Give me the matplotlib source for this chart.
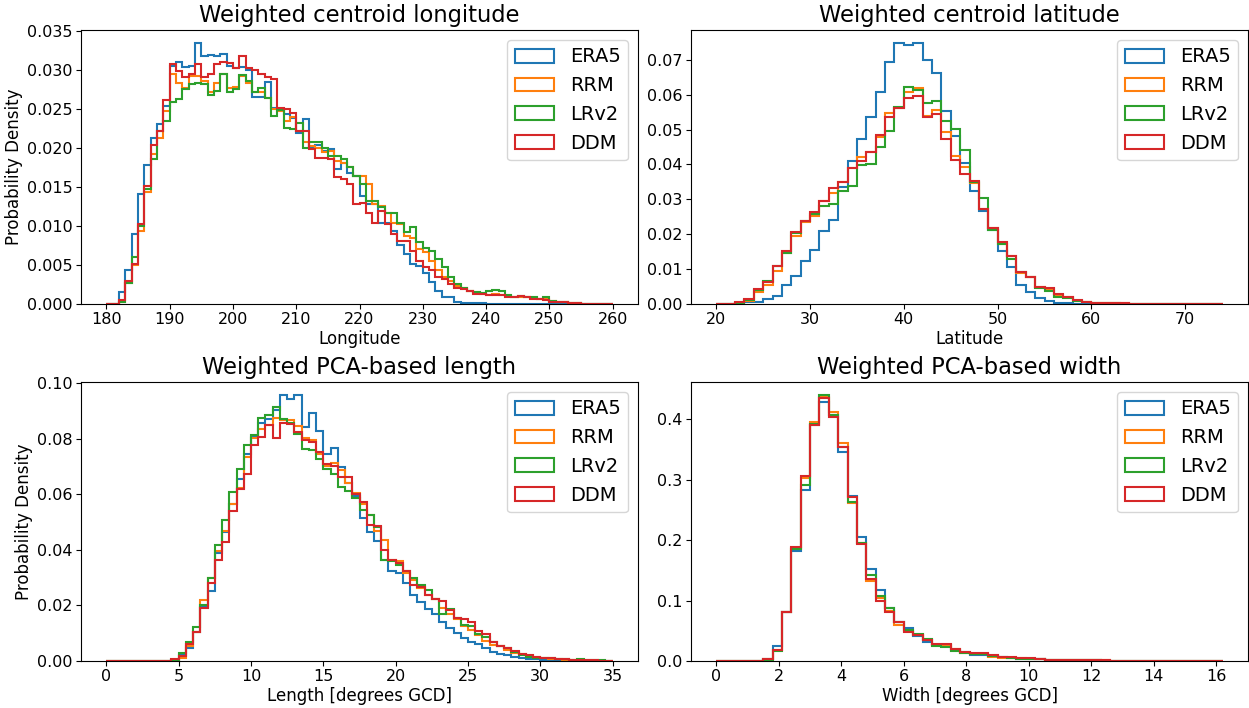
import numpy as np
import matplotlib
matplotlib.use("Agg")
import matplotlib.pyplot as plt

# series names / colours
labels = ["ERA5", "RRM", "LRv2", "DDM"]
colors = ["#1f77b4", "#ff7f0e", "#2ca02c", "#d62728"]

# ---- weighted centroid longitude, 1 degree bins 180..260
lon_edges = np.arange(180, 261, 1)
lon_era5 = [0, 0, 0.0015, 0.0044, 0.0090, 0.0141, 0.0178, 0.0213, 0.0231, 0.0253,
            0.0305, 0.0310, 0.0303, 0.0305, 0.0334, 0.0318, 0.0319, 0.0318, 0.0320, 0.0305,
            0.0302, 0.0303, 0.0300, 0.0265, 0.0265, 0.0284, 0.0251, 0.0249, 0.0243, 0.0238,
            0.0219, 0.0237, 0.0201, 0.0203, 0.0196, 0.0198, 0.0173, 0.0180, 0.0168, 0.0164,
            0.0138, 0.0128, 0.0128, 0.0104, 0.0104, 0.0094, 0.0075, 0.0064, 0.0051, 0.0049,
            0.0040, 0.0028, 0.0017, 0.0009, 0.0009, 0.0002, 0.0001, 0.0001, 0.0001, 0.0001,
            0, 0, 0, 0, 0, 0, 0, 0, 0, 0,
            0, 0, 0, 0, 0, 0, 0, 0, 0, 0]
lon_rrm = [0, 0, 0.0002, 0.0027, 0.0050, 0.0094, 0.0143, 0.0192, 0.0213, 0.0247,
           0.0294, 0.0283, 0.0277, 0.0292, 0.0292, 0.0286, 0.0271, 0.0283, 0.0295, 0.0277,
           0.0278, 0.0292, 0.0283, 0.0271, 0.0271, 0.0264, 0.0250, 0.0247, 0.0234, 0.0239,
           0.0222, 0.0207, 0.0202, 0.0200, 0.0194, 0.0196, 0.0183, 0.0181, 0.0175, 0.0164,
           0.0164, 0.0153, 0.0128, 0.0126, 0.0117, 0.0104, 0.0102, 0.0087, 0.0085, 0.0070,
           0.0066, 0.0055, 0.0043, 0.0034, 0.0030, 0.0023, 0.0021, 0.0017, 0.0015, 0.0013,
           0.0012, 0.0013, 0.0011, 0.0010, 0.0009, 0.0009, 0.0009, 0.0008, 0.0006, 0.0006,
           0.0004, 0.0003, 0.0002, 0.0001, 0.0001, 0.00005, 0.00003, 0, 0, 0]
lon_lrv2 = [0, 0, 0.0002, 0.0027, 0.0060, 0.0100, 0.0147, 0.0185, 0.0222, 0.0234,
            0.0258, 0.0262, 0.0275, 0.0281, 0.0283, 0.0282, 0.0268, 0.0273, 0.0294, 0.0271,
            0.0275, 0.0293, 0.0285, 0.0271, 0.0277, 0.0264, 0.0241, 0.0248, 0.0225, 0.0224,
            0.0232, 0.0200, 0.0207, 0.0207, 0.0200, 0.0190, 0.0190, 0.0185, 0.0175, 0.0164,
            0.0153, 0.0132, 0.0132, 0.0124, 0.0117, 0.0117, 0.0104, 0.0092, 0.0098, 0.0079,
            0.0072, 0.0068, 0.0058, 0.0047, 0.0034, 0.0026, 0.0021, 0.0017, 0.0015, 0.0014,
            0.0016, 0.0018, 0.0016, 0.0011, 0.0009, 0.0010, 0.0009, 0.0009, 0.0007, 0.0009,
            0.0004, 0.0003, 0.0002, 0.0001, 0.0001, 0.00003, 0, 0, 0, 0]
lon_ddm = [0, 0, 0.0005, 0.0030, 0.0051, 0.0102, 0.0151, 0.0204, 0.0222, 0.0261,
           0.0307, 0.0298, 0.0290, 0.0294, 0.0307, 0.0291, 0.0294, 0.0307, 0.0310, 0.0309,
           0.0302, 0.0317, 0.0302, 0.0299, 0.0295, 0.0291, 0.0288, 0.0251, 0.0249, 0.0245,
           0.0222, 0.0222, 0.0198, 0.0187, 0.0187, 0.0185, 0.0162, 0.0160, 0.0153, 0.0128,
           0.0129, 0.0117, 0.0104, 0.0119, 0.0102, 0.0089, 0.0081, 0.0081, 0.0068, 0.0055,
           0.0047, 0.0043, 0.0034, 0.0032, 0.0026, 0.0021, 0.0019, 0.0017, 0.0013, 0.0013,
           0.0011, 0.0012, 0.0011, 0.0009, 0.0009, 0.0010, 0.0009, 0.0006, 0.0006, 0.0005,
           0.0003, 0.0003, 0.0002, 0.0001, 0.0001, 0.00003, 0, 0, 0, 0]

# ---- weighted centroid latitude, 1 degree bins 20..74
lat_edges = np.arange(20, 75, 1)
lat_era5 = [0, 0, 0, 0.0005, 0.0007, 0.0013, 0.0022, 0.0054, 0.0079, 0.0122,
            0.0156, 0.0210, 0.0242, 0.0335, 0.0409, 0.0473, 0.0537, 0.0607, 0.0695, 0.0748,
            0.0741, 0.0748, 0.0700, 0.0663, 0.0552, 0.0482, 0.0403, 0.0323, 0.0268, 0.0212,
            0.0151, 0.0105, 0.0055, 0.0033, 0.0017, 0.0008, 0.0004, 0.0002, 0.0001, 0.0001,
            0, 0, 0, 0, 0, 0, 0, 0, 0, 0,
            0, 0, 0, 0]
lat_rrm = [0, 0, 0.0003, 0.0010, 0.0035, 0.0055, 0.0094, 0.0145, 0.0196, 0.0235,
           0.0252, 0.0294, 0.0317, 0.0349, 0.0389, 0.0421, 0.0435, 0.0478, 0.0547, 0.0562,
           0.0609, 0.0620, 0.0540, 0.0556, 0.0492, 0.0425, 0.0394, 0.0346, 0.0273, 0.0218,
           0.0172, 0.0139, 0.0088, 0.0078, 0.0050, 0.0042, 0.0025, 0.0019, 0.0010, 0.0007,
           0.0004, 0.0003, 0.0002, 0.0002, 0.0001, 0.0001, 0.0001, 0.0001, 0.00005, 0.00005,
           0.00003, 0.00002, 0, 0]
lat_lrv2 = [0, 0, 0.0004, 0.0012, 0.0040, 0.0067, 0.0110, 0.0145, 0.0203, 0.0239,
            0.0258, 0.0282, 0.0287, 0.0325, 0.0337, 0.0399, 0.0402, 0.0449, 0.0497, 0.0564,
            0.0623, 0.0612, 0.0575, 0.0581, 0.0524, 0.0502, 0.0440, 0.0349, 0.0304, 0.0212,
            0.0172, 0.0130, 0.0093, 0.0076, 0.0046, 0.0038, 0.0019, 0.0016, 0.0008, 0.0007,
            0.0004, 0.0002, 0.0002, 0.0001, 0.0001, 0.0001, 0.00005, 0, 0, 0,
            0, 0, 0, 0]
lat_ddm = [0, 0, 0.0005, 0.0014, 0.0043, 0.0062, 0.0110, 0.0153, 0.0206, 0.0239,
           0.0263, 0.0294, 0.0333, 0.0349, 0.0389, 0.0411, 0.0435, 0.0483, 0.0535, 0.0561,
           0.0590, 0.0595, 0.0537, 0.0545, 0.0473, 0.0413, 0.0373, 0.0352, 0.0273, 0.0218,
           0.0178, 0.0139, 0.0093, 0.0078, 0.0050, 0.0046, 0.0029, 0.0021, 0.0011, 0.0007,
           0.0004, 0.0003, 0.0002, 0.0002, 0.0001, 0.0001, 0.0001, 0.00005, 0.00005, 0.00003,
           0.00002, 0, 0, 0]

# ---- PCA-based length, 0.5 degree bins 0..35
len_edges = np.arange(0, 35.5, 0.5)
len_era5 = [0, 0, 0, 0, 0, 0, 0, 0, 0, 0.0004,
            0.0021, 0.0045, 0.0103, 0.0194, 0.0251, 0.0388, 0.0464, 0.0566, 0.0655, 0.0743,
            0.0806, 0.0857, 0.0869, 0.0903, 0.0956, 0.0942, 0.0956, 0.0842, 0.0893, 0.0828,
            0.0743, 0.0767, 0.0699, 0.0642, 0.0594, 0.0515, 0.0464, 0.0430, 0.0364, 0.0324,
            0.0315, 0.0282, 0.0236, 0.0212, 0.0188, 0.0170, 0.0142, 0.0118, 0.0101, 0.0081,
            0.0067, 0.0061, 0.0048, 0.0033, 0.0024, 0.0021, 0.0016, 0.0012, 0.0008, 0.0006,
            0.0005, 0.0004, 0.0002, 0.0002, 0.0001, 0.0001, 0.0001, 0, 0, 0]
len_rrm = [0, 0, 0, 0, 0, 0, 0, 0, 0, 0.0001,
           0.0012, 0.0055, 0.0105, 0.0218, 0.0299, 0.0396, 0.0469, 0.0564, 0.0624, 0.0733,
           0.0802, 0.0836, 0.0848, 0.0873, 0.0867, 0.0867, 0.0845, 0.0802, 0.0794, 0.0743,
           0.0703, 0.0712, 0.0687, 0.0642, 0.0606, 0.0566, 0.0527, 0.0467, 0.0436, 0.0364,
           0.0360, 0.0315, 0.0291, 0.0261, 0.0236, 0.0224, 0.0190, 0.0170, 0.0152, 0.0127,
           0.0113, 0.0093, 0.0073, 0.0058, 0.0055, 0.0040, 0.0030, 0.0024, 0.0018, 0.0015,
           0.0010, 0.0008, 0.0006, 0.0005, 0.0004, 0.0002, 0.0001, 0.0001, 0.0001, 0.0001]
len_lrv2 = [0, 0, 0, 0, 0, 0, 0, 0, 0, 0.0002,
            0.0028, 0.0067, 0.0121, 0.0202, 0.0299, 0.0416, 0.0509, 0.0608, 0.0691, 0.0776,
            0.0812, 0.0873, 0.0885, 0.0913, 0.0869, 0.0855, 0.0818, 0.0764, 0.0758, 0.0727,
            0.0691, 0.0673, 0.0627, 0.0612, 0.0588, 0.0545, 0.0525, 0.0481, 0.0364, 0.0358,
            0.0345, 0.0324, 0.0297, 0.0275, 0.0255, 0.0224, 0.0170, 0.0188, 0.0154, 0.0130,
            0.0125, 0.0097, 0.0085, 0.0067, 0.0055, 0.0045, 0.0033, 0.0021, 0.0016, 0.0012,
            0.0011, 0.0010, 0.0008, 0.0006, 0.0005, 0.0006, 0.0004, 0.0005, 0.0002, 0.0001]
len_ddm = [0, 0, 0, 0, 0, 0, 0, 0, 0, 0.0006,
           0.0018, 0.0061, 0.0103, 0.0190, 0.0279, 0.0364, 0.0428, 0.0539, 0.0618, 0.0673,
           0.0776, 0.0806, 0.0848, 0.0804, 0.0855, 0.0851, 0.0824, 0.0796, 0.0788, 0.0752,
           0.0709, 0.0703, 0.0663, 0.0663, 0.0600, 0.0573, 0.0491, 0.0485, 0.0400, 0.0364,
           0.0352, 0.0324, 0.0275, 0.0267, 0.0236, 0.0224, 0.0215, 0.0182, 0.0154, 0.0152,
           0.0139, 0.0109, 0.0097, 0.0067, 0.0055, 0.0048, 0.0036, 0.0024, 0.0021, 0.0016,
           0.0012, 0.0010, 0.0008, 0.0006, 0.0005, 0.0004, 0.0002, 0.0002, 0.0001, 0.0001]

# ---- PCA-based width, 0.3 degree bins 0..16.2
wid_edges = np.linspace(0, 16.2, 55)
wid_era5 = [0, 0, 0, 0, 0, 0.003, 0.025, 0.081, 0.182, 0.283,
            0.391, 0.429, 0.408, 0.346, 0.274, 0.205, 0.153, 0.117, 0.087, 0.065,
            0.055, 0.042, 0.031, 0.026, 0.026, 0.019, 0.015, 0.010, 0.010, 0.008,
            0.006, 0.005, 0.004, 0.0035, 0.003, 0.0022, 0.0018, 0.0015, 0.0012, 0.0010,
            0.0009, 0.0008, 0.0007, 0.0006, 0.0005, 0.0004, 0.0004, 0.0003, 0.0003, 0.0002,
            0.0002, 0.0001, 0.0001, 0.0001]
wid_rrm = [0, 0, 0, 0, 0, 0.003, 0.0185, 0.081, 0.187, 0.303,
           0.395, 0.437, 0.412, 0.361, 0.261, 0.195, 0.133, 0.104, 0.083, 0.059,
           0.050, 0.043, 0.034, 0.027, 0.027, 0.020, 0.014, 0.012, 0.012, 0.007,
           0.005, 0.0055, 0.005, 0.004, 0.003, 0.0022, 0.0018, 0.0015, 0.0012, 0.0011,
           0.0010, 0.0009, 0.0008, 0.0007, 0.0006, 0.0005, 0.0004, 0.0003, 0.0003, 0.0002,
           0.0002, 0.0001, 0.0001, 0.0001]
wid_lrv2 = [0, 0, 0, 0, 0, 0.002, 0.017, 0.081, 0.185, 0.292,
            0.393, 0.440, 0.408, 0.355, 0.264, 0.196, 0.142, 0.107, 0.088, 0.064,
            0.052, 0.045, 0.036, 0.025, 0.024, 0.017, 0.013, 0.011, 0.012, 0.008,
            0.007, 0.005, 0.004, 0.0035, 0.003, 0.0022, 0.0018, 0.0015, 0.0012, 0.0010,
            0.0009, 0.0008, 0.0007, 0.0006, 0.0005, 0.0004, 0.0004, 0.0003, 0.0002, 0.0002,
            0.0001, 0.0001, 0.0001, 0]
wid_ddm = [0, 0, 0, 0, 0, 0.003, 0.0185, 0.081, 0.188, 0.307,
           0.391, 0.436, 0.404, 0.355, 0.272, 0.193, 0.136, 0.099, 0.081, 0.064,
           0.048, 0.043, 0.034, 0.028, 0.028, 0.020, 0.015, 0.013, 0.014, 0.0095,
           0.0073, 0.006, 0.0056, 0.0045, 0.003, 0.0022, 0.0017, 0.0015, 0.0012, 0.0011,
           0.0010, 0.0009, 0.0008, 0.0007, 0.0006, 0.0005, 0.0004, 0.0003, 0.0003, 0.0002,
           0.0002, 0.0001, 0.0001, 0.0001]

panels = [
    ("Weighted centroid longitude", "Longitude", lon_edges, [lon_era5, lon_rrm, lon_lrv2, lon_ddm]),
    ("Weighted centroid latitude", "Latitude", lat_edges, [lat_era5, lat_rrm, lat_lrv2, lat_ddm]),
    ("Weighted PCA-based length", "Length [degrees GCD]", len_edges, [len_era5, len_rrm, len_lrv2, len_ddm]),
    ("Weighted PCA-based width", "Width [degrees GCD]", wid_edges, [wid_era5, wid_rrm, wid_lrv2, wid_ddm]),
]

fig = plt.figure(figsize=(12.49, 7.08), dpi=100)
# axes boxes in pixels (left, top, right, bottom)
boxes = [(81, 30, 638, 304), (691, 30, 1248, 304), (81, 382, 638, 661), (691, 382, 1248, 661)]
W, H = 1249, 708

for i, (title, xlabel, edges, series) in enumerate(panels):
    l, t, r, b = boxes[i]
    ax = fig.add_axes([l / W, (H - b) / H, (r - l) / W, (b - t) / H])
    centers = (edges[:-1] + edges[1:]) / 2
    for vals, lab, col in zip(series, labels, colors):
        ax.hist(centers, bins=edges, weights=vals, histtype="step",
                color=col, label=lab, linewidth=1.5)
    ax.set_title(title, fontsize=16.3)
    ax.set_xlabel(xlabel, fontsize=12, labelpad=2)
    if i % 2 == 0:
        ax.set_ylabel("Probability Density", fontsize=12, labelpad=3)
    ax.tick_params(labelsize=11.5, pad=2.5)
    ax.legend(loc="upper right", fontsize=14)

fig.savefig("out.png", dpi=100)
